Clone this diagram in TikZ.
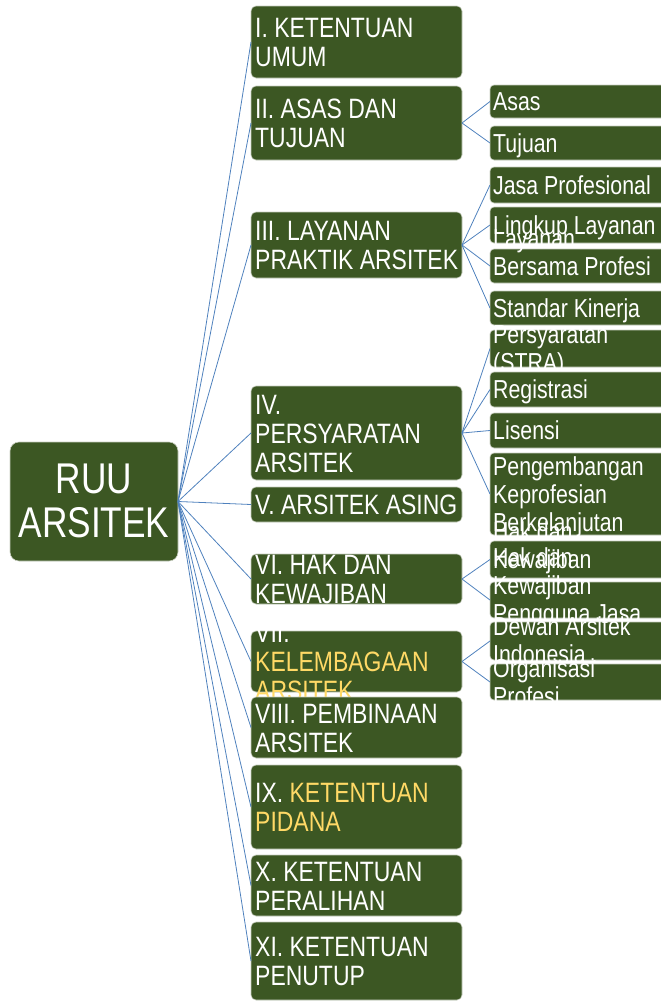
\documentclass[tikz,border=0pt]{standalone}
\usepackage{fontspec}
\setmainfont{Liberation Sans}[FakeStretch=0.82]

\definecolor{boxgreen}{RGB}{60,87,35}
\definecolor{linkblue}{RGB}{79,129,189}
\definecolor{gold}{RGB}{255,217,102}
\definecolor{rim}{RGB}{200,206,192}

\begin{document}
\begin{tikzpicture}[x=1pt, y=-1pt,
    box/.style={fill=boxgreen, draw=rim, line width=0.6pt, inner sep=0pt, outer sep=0pt},
    rootbox/.style={box, rounded corners=9pt, minimum width=168pt, minimum height=119pt},
    lvone/.style={box, rounded corners=5pt, minimum width=211pt},
    lvtwo/.style={box, rounded corners=4pt, minimum width=182pt},
    txtone/.style={text=white, inner sep=0pt, anchor=base west, align=left, text width=230pt, font=\fontsize{28}{29}\selectfont, execute at begin node={\spaceskip=6.4pt plus 1pt\relax}},
    txttwo/.style={text=white, inner sep=0pt, anchor=base west, align=left, text width=200pt, font=\fontsize{26}{28}\selectfont, execute at begin node={\spaceskip=5.9pt plus 1pt\relax}},
    link/.style={draw=linkblue, line width=0.8pt}]
                \clip (0,0) rectangle (661,1001);
                \node[rootbox] (ruu) at (94,501.5) {};
                \node[text=white, inner sep=0pt, anchor=base, align=center, text width=168pt, font=\fontsize{43}{44}\selectfont] (ruu-t) at (94,493) {RUU\\ARSITEK};

                \node[lvone, minimum height=72pt] (umum) at (356.5,42) {};
                \node[txtone] (umum-t) at (255,37.5) {I. KETENTUAN\\UMUM};
                \node[lvone, minimum height=74pt] (asas) at (356.5,123) {};
                \node[txtone] (asas-t) at (255,118.5) {II. ASAS DAN\\TUJUAN};
                \node[lvone, minimum height=66pt] (layanan) at (356.5,245) {};
                \node[txtone] (layanan-t) at (255,240.5) {III. LAYANAN\\PRAKTIK ARSITEK};
                \node[lvone, minimum height=94pt] (syarat) at (356.5,433) {};
                \node[txtone] (syarat-t) at (255,414) {IV.\\PERSYARATAN\\ARSITEK};
                \node[lvone, minimum height=35pt] (asing) at (356.5,504.5) {};
                \node[txtone] (asing-t) at (255,514.5) {V. ARSITEK ASING};
                \node[lvone, minimum height=50pt] (hak) at (356.5,579) {};
                \node[txtone] (hak-t) at (255,574.5) {VI. HAK DAN\\KEWAJIBAN};
                \node[lvone, minimum height=61pt] (lembaga) at (356.5,661.5) {};
                \node[txtone] (lembaga-t) at (255,642.5) {VII.\\\textcolor{gold}{KELEMBAGAAN}\\\textcolor{gold}{ARSITEK}};
                \node[lvone, minimum height=61pt] (bina) at (356.5,727.5) {};
                \node[txtone] (bina-t) at (255,723) {VIII. PEMBINAAN\\ARSITEK};
                \node[lvone, minimum height=84pt] (pidana) at (356.5,807) {};
                \node[txtone] (pidana-t) at (255,802.5) {IX. \textcolor{gold}{KETENTUAN}\\\textcolor{gold}{PIDANA}};
                \node[lvone, minimum height=61pt] (alih) at (356.5,885.5) {};
                \node[txtone] (alih-t) at (255,881) {X. KETENTUAN\\PERALIHAN};
                \node[lvone, minimum height=78pt] (tutup) at (356.5,961) {};
                \node[txtone] (tutup-t) at (255,956.5) {XI. KETENTUAN\\PENUTUP};

                \node[lvtwo, minimum height=33pt] (asasa) at (581,101.5) {};
                \node[txttwo] (asasa-t) at (493,110.5) {Asas};
                \node[lvtwo, minimum height=34pt] (tujuan) at (581,143) {};
                \node[txttwo] (tujuan-t) at (493,152) {Tujuan};
                \node[lvtwo, minimum height=36pt] (jasa) at (581,185) {};
                \node[txttwo] (jasa-t) at (493,194) {Jasa Profesional};
                \node[lvtwo, minimum height=36pt] (lingkup) at (581,225) {};
                \node[txttwo] (lingkup-t) at (493,234) {Lingkup Layanan};
                \node[lvtwo, minimum height=34pt] (bersama) at (581,266) {};
                \node[txttwo] (bersama-t) at (493,247) {Layanan\\Bersama Profesi};
                \node[lvtwo, minimum height=34pt] (standar) at (581,308) {};
                \node[txttwo] (standar-t) at (493,317) {Standar Kinerja};
                \node[lvtwo, minimum height=37pt] (stra) at (581,348.5) {};
                \node[txttwo] (stra-t) at (493,343.5) {Persyaratan\\(STRA)};
                \node[lvtwo, minimum height=35pt] (registrasi) at (581,389.5) {};
                \node[txttwo] (registrasi-t) at (493,398.5) {Registrasi};
                \node[lvtwo, minimum height=35pt] (lisensi) at (581,430.5) {};
                \node[txttwo] (lisensi-t) at (493,439.5) {Lisensi};
                \node[lvtwo, minimum height=82pt] (pkb) at (581,494) {};
                \node[txttwo] (pkb-t) at (493,475) {Pengembangan\\Keprofesian\\Berkelanjutan};
                \node[lvtwo, minimum height=37pt] (hakars) at (581,559.5) {};
                \node[txttwo] (hakars-t) at (493,540.5) {Hak dan\\Kewajiban};
                \node[lvtwo, minimum height=36pt] (hakpj) at (581,600) {};
                \node[txttwo] (hakpj-t) at (493,566) {Hak dan\\Kewajiban\\Pengguna Jasa};
                \node[lvtwo, minimum height=38pt] (dai) at (581,641) {};
                \node[txttwo] (dai-t) at (493,635) {Dewan Arsitek\\Indonesia ,};
                \node[lvtwo, minimum height=36pt] (organisasi) at (581,682) {};
                \node[txttwo] (organisasi-t) at (493,677) {Organisasi\\Profesi};

                \foreach \n in {umum,asas,layanan,syarat,asing,hak,lembaga,bina,pidana,alih,tutup}
                    \draw[link] (ruu.east) -- (\n.west);
                \foreach \a/\b in {asas/asasa,asas/tujuan,layanan/jasa,layanan/lingkup,layanan/bersama,layanan/standar,syarat/stra,syarat/registrasi,syarat/lisensi,syarat/pkb,hak/hakars,hak/hakpj,lembaga/dai,lembaga/organisasi}
                    \draw[link] (\a.east) -- (\b.west);
            \end{tikzpicture}
\end{document}
